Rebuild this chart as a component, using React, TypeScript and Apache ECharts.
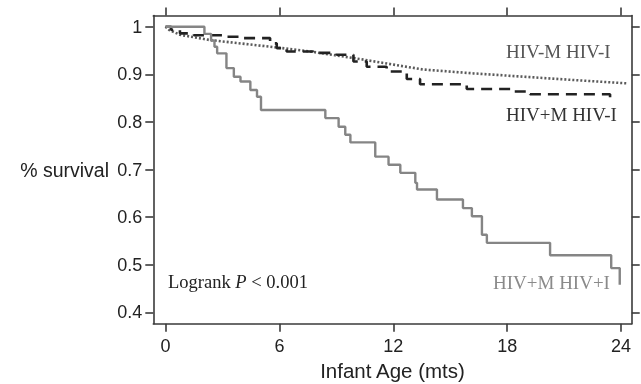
import React, { useEffect, useRef } from "react";
import * as echarts from "echarts";

// Tick values
const xTicks = [0, 6, 12, 18, 24];
const yTicks = [0.4, 0.5, 0.6, 0.7, 0.8, 0.9, 1];

// HIV+M HIV+I (solid grey)
const posPosTime = [0, 2.05, 2.4, 2.58, 2.72, 3.21, 3.6, 3.95, 4.47, 4.82, 5.03, 8.42, 9.12, 9.47, 9.74, 11.05, 11.75, 12.37, 13.16, 13.25, 14.3, 15.67, 16.14, 16.67, 16.93, 20.26, 23.48, 23.93];
const posPosSurv = [1, 0.985, 0.971, 0.958, 0.944, 0.913, 0.895, 0.885, 0.867, 0.853, 0.825, 0.808, 0.79, 0.773, 0.757, 0.727, 0.71, 0.693, 0.672, 0.658, 0.637, 0.619, 0.602, 0.563, 0.546, 0.52, 0.493, 0.458];

// HIV+M HIV-I (black dashed)
const posNegTime = [0, 0.3, 0.76, 1.5, 3.22, 3.93, 5.51, 5.86, 6.38, 7.79, 9.02, 9.9, 10.6, 11.65, 12.71, 13.41, 15.87, 18.32, 19.2, 23.42, 23.5];
const posNegSurv = [1, 0.993, 0.986, 0.982, 0.979, 0.976, 0.965, 0.955, 0.948, 0.945, 0.941, 0.927, 0.916, 0.906, 0.89, 0.879, 0.869, 0.864, 0.858, 0.85, 0.85];

// HIV-M HIV-I (grey dotted)
const negNegTime = [0, 0.2, 0.76, 2.33, 5.5, 7.61, 10.25, 12.36, 13.58, 16.21, 18.85, 21.49, 24.3];
const negNegSurv = [1, 0.993, 0.983, 0.972, 0.958, 0.948, 0.932, 0.918, 0.91, 0.902, 0.895, 0.888, 0.881];

const zip = (t: number[], s: number[]) => t.map((v, i) => [v, s[i]]);

const SANS = "Liberation Sans, Arial, Helvetica, sans-serif";
const SERIF = "Liberation Serif, Times New Roman, serif";
const AXIS_COLOR = "#3a3a3a";

export default function App() {
  const ref = useRef<HTMLDivElement>(null);
  useEffect(() => {
    if (!ref.current) return;
    const chart = echarts.init(ref.current, undefined, { renderer: "svg" });
    const lineStyleAxis = { color: AXIS_COLOR, width: 1.6 };
    const xBase = {
      type: "value" as const,
      min: -0.643,
      max: 24.56,
      splitLine: { show: false },
      axisLine: { show: true, onZero: false, lineStyle: lineStyleAxis },
    };
    const yBase = {
      type: "value" as const,
      min: 0.3762,
      max: 1.0235,
      splitLine: { show: false },
      axisLine: { show: true, onZero: false, lineStyle: lineStyleAxis },
    };
    chart.setOption({
      animation: false,
      grid: {
        left: 153.3,
        top: 15.5,
        right: 9.3,
        bottom: 60.3,
        containLabel: false,
        outerBoundsMode: "none",
      },
      xAxis: [
        {
          ...xBase,
          position: "bottom",
          name: "Infant Age (mts)",
          nameLocation: "middle",
          nameGap: 35,
          nameTextStyle: { fontFamily: SANS, fontSize: 20.5, color: "#222" },
          axisTick: { show: true, length: 8, lineStyle: lineStyleAxis, customValues: xTicks },
          axisLabel: {
            show: true,
            customValues: xTicks,
            margin: 13,
            fontFamily: SANS,
            fontSize: 18,
            color: "#222",
          },
        },
        {
          ...xBase,
          position: "top",
          axisTick: { show: true, length: 8, lineStyle: lineStyleAxis, customValues: xTicks },
          axisLabel: { show: false },
        },
      ],
      yAxis: [
        {
          ...yBase,
          position: "left",
          axisTick: { show: true, length: 8, lineStyle: lineStyleAxis, customValues: yTicks },
          axisLabel: {
            show: true,
            customValues: yTicks,
            margin: 11,
            fontFamily: SANS,
            fontSize: 18,
            color: "#222",
            formatter: (v: number) => (v === 1 ? "1" : v.toFixed(1)),
          },
        },
        {
          ...yBase,
          position: "right",
          axisTick: { show: true, length: 8, lineStyle: lineStyleAxis, customValues: yTicks },
          axisLabel: { show: false },
        },
      ],
      series: [
        {
          name: "HIV-M HIV-I",
          type: "line",
          data: zip(negNegTime, negNegSurv),
          showSymbol: false,
          clip: false,
          lineStyle: { color: "#5a5a5a", width: 2.6, type: [2, 2] },
        },
        {
          name: "HIV+M HIV-I",
          type: "line",
          step: "end",
          data: zip(posNegTime, posNegSurv),
          showSymbol: false,
          clip: false,
          lineStyle: { color: "#222", width: 2.6, type: [11, 7] },
        },
        {
          name: "HIV+M HIV+I",
          type: "line",
          step: "end",
          data: zip(posPosTime, posPosSurv),
          showSymbol: false,
          clip: false,
          lineStyle: { color: "#858585", width: 2.4 },
        },
      ],
      graphic: [
        {
          type: "text",
          x: 109,
          y: 170,
          style: {
            text: "% survival",
            fontFamily: SANS,
            fontSize: 19.5,
            fill: "#222",
            align: "right",
            verticalAlign: "middle",
          },
        },
        {
          type: "text",
          x: 506,
          y: 51,
          style: {
            text: "HIV-M HIV-I",
            fontFamily: SERIF,
            fontSize: 19,
            fill: "#555",
            align: "left",
            verticalAlign: "middle",
          },
        },
        {
          type: "text",
          x: 506,
          y: 114,
          style: {
            text: "HIV+M HIV-I",
            fontFamily: SERIF,
            fontSize: 19,
            fill: "#333",
            align: "left",
            verticalAlign: "middle",
          },
        },
        {
          type: "text",
          x: 493,
          y: 282,
          style: {
            text: "HIV+M HIV+I",
            fontFamily: SERIF,
            fontSize: 19,
            fill: "#8a8a8a",
            align: "left",
            verticalAlign: "middle",
          },
        },
        {
          type: "text",
          x: 168,
          y: 282,
          style: {
            text: "{n|Logrank }{i|P}{n| < 0.001}",
            verticalAlign: "middle",
            align: "left",
            rich: {
              n: { fontFamily: SERIF, fontSize: 18.5, fill: "#222" },
              i: { fontFamily: SERIF, fontSize: 18.5, fontStyle: "italic", fill: "#222" },
            },
          },
        },
      ],
    });
    return () => chart.dispose();
  }, []);
  return (
    <div
      ref={ref}
      style={{ position: "fixed", left: 0, top: 0, width: 641, height: 384 }}
    />
  );
}
